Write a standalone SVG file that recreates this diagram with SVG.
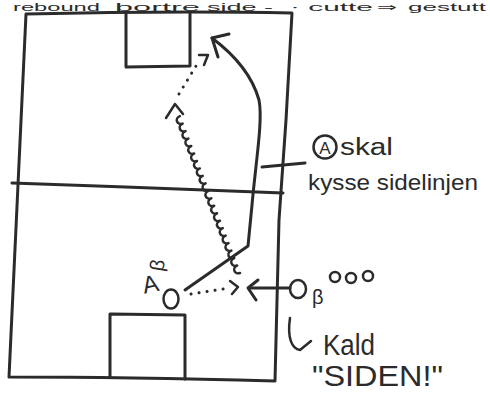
<svg xmlns="http://www.w3.org/2000/svg" width="490" height="394" viewBox="0 0 490 394">
<style>
.ln{fill:none;stroke:#2b2b2b;stroke-width:3;stroke-linecap:round;stroke-linejoin:round}
.th{fill:none;stroke:#2b2b2b;stroke-width:2.5;stroke-linecap:round;stroke-linejoin:round}
.dot{fill:none;stroke:#2b2b2b;stroke-width:3;stroke-linecap:round;stroke-dasharray:0.1 8}
.tx{fill:#2b2b2b;font-family:"Liberation Sans","DejaVu Sans",sans-serif}
</style>
<rect width="490" height="394" fill="#fff"/>
<g id="title" class="tx" font-size="11">
<text x="13" y="11" textLength="87" lengthAdjust="spacingAndGlyphs">rebound</text>
<text x="115" y="11" textLength="85" lengthAdjust="spacingAndGlyphs">bortre</text>
<text x="207" y="11" textLength="66" lengthAdjust="spacingAndGlyphs">side -</text>
<text x="290" y="11" textLength="83" lengthAdjust="spacingAndGlyphs">· cutte</text>
<text x="377" y="11" textLength="20" lengthAdjust="spacingAndGlyphs">⇒</text>
<text x="408" y="11" textLength="78" lengthAdjust="spacingAndGlyphs">gestutt</text>
</g>
<g id="field">
<path class="ln" d="M26,14 C110,12 200,11 292,13 L286,120 L279,220 L275,381 C200,379 120,377 9,377 L26,14"/>
<path class="ln" d="M12,183 C100,186 200,190 283,193"/>
</g>
<g id="goal-top"><path class="ln" d="M126,13 L126,67 L190,66 L190,13"/></g>
<g id="goal-bottom"><path class="ln" d="M110,377 L110,314 L185,315 L185,379"/></g>
<g id="player-a">
<ellipse class="th" cx="171" cy="299" rx="7.5" ry="9.5"/>
<text class="tx" x="142" y="292" font-size="24" transform="rotate(-12 152 282)">A</text>
<text class="tx" x="0" y="0" font-size="20" transform="translate(163,272) rotate(-80)">β</text>
</g>
<g id="player-b">
<ellipse class="th" cx="298" cy="289" rx="8" ry="9"/>
<text class="tx" x="312" y="304" font-size="20">β</text>
<circle class="th" cx="335" cy="277" r="5"/>
<circle class="th" cx="351" cy="278" r="5"/>
<circle class="th" cx="368" cy="276" r="5"/>
</g>
<g id="label-a">
<circle class="th" cx="325" cy="147" r="11.5"/>
<text class="tx" x="325" y="154" font-size="17" text-anchor="middle">A</text>
<text class="tx" x="340" y="155" font-size="23" textLength="53" lengthAdjust="spacingAndGlyphs">skal</text>
<text class="tx" x="308" y="190" font-size="22" textLength="170" lengthAdjust="spacingAndGlyphs">kysse sidelinjen</text>
</g>
<g id="label-b">
<text class="tx" x="323" y="355" font-size="29" textLength="52" lengthAdjust="spacingAndGlyphs">Kald</text>
<text class="tx" x="312" y="386" font-size="30" textLength="131" lengthAdjust="spacingAndGlyphs">"SIDEN!"</text>
</g>
<g id="connectors">
<path class="ln" d="M185,290 L248,246 L252,205 C256,160 263,120 259,100 C252,75 236,56 212,38"/>
<path class="ln" d="M229,34 L212,38 L218,57"/>
<g transform="translate(240,273) rotate(-111)">
<path class="th" d="M0,0 a4,4.5 0 1 1 8,0 a4,4.5 0 1 1 8,0 a4,4.5 0 1 1 8,0 a4,4.5 0 1 1 8,0 a4,4.5 0 1 1 8,0 a4,4.5 0 1 1 8,0 a4,4.5 0 1 1 8,0 a4,4.5 0 1 1 8,0 a4,4.5 0 1 1 8,0 a4,4.5 0 1 1 8,0 a4,4.5 0 1 1 8,0 a4,4.5 0 1 1 8,0 a4,4.5 0 1 1 8,0 a4,4.5 0 1 1 8,0 a4,4.5 0 1 1 8,0 a4,4.5 0 1 1 8,0 a4,4.5 0 1 1 8,0 a4,4.5 0 1 1 8,0 a4,4.5 0 1 1 8,0 a4,4.5 0 1 1 8,0 a4,4.5 0 1 1 8,0"/>
</g>
<path class="th" d="M166,118 L175,104 L183,114"/>
<path class="dot" d="M179,94 L196,66"/>
<path class="th" d="M199,55 L208,55 L204,65"/>
<path class="dot" d="M191,294 L229,288"/>
<path class="th" d="M230,281 L238,287 L232,294"/>
<path class="ln" d="M290,288 L249,288"/>
<path class="ln" d="M258,280 L248,288 L256,300"/>
<path class="ln" d="M262,167 L305,163"/>
<path class="th" d="M290,318 C287,338 292,349 300,350 L311,341"/>
</g>
</svg>
